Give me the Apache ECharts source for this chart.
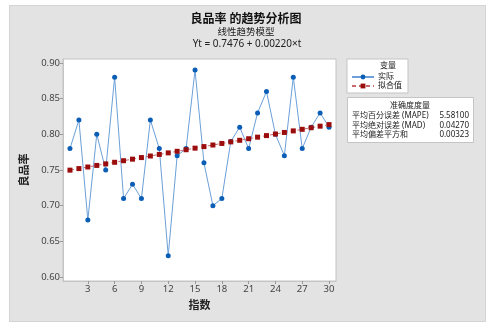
<!DOCTYPE html>
<html><head><meta charset="utf-8">
<script src="https://cdn.jsdelivr.net/npm/echarts@6/dist/echarts.min.js"></script>
<style>
html,body{margin:0;padding:0;background:#fff;}
#bg{position:absolute;left:9px;top:5px;width:475px;height:315px;background:#e3e3e3;border:1px solid #d4d4d4;}
#c{position:absolute;left:0;top:0;width:501px;height:331px;}
</style></head>
<body><div id="bg"></div><div id="c"></div>
<script>
const index = [1,2,3,4,5,6,7,8,9,10,11,12,13,14,15,16,17,18,19,20,21,22,23,24,25,26,27,28,29,30];
const actual = [0.78,0.82,0.68,0.80,0.75,0.88,0.71,0.73,0.71,0.82,0.78,0.63,0.77,0.78,0.89,0.76,0.70,0.71,0.79,0.81,0.78,0.83,0.86,0.80,0.77,0.88,0.78,0.81,0.83,0.81];
const fitted = [0.7498,0.7520,0.7542,0.7564,0.7586,0.7608,0.7630,0.7652,0.7674,0.7696,0.7718,0.7740,0.7762,0.7784,0.7806,0.7828,0.7850,0.7872,0.7894,0.7916,0.7938,0.7960,0.7982,0.8004,0.8026,0.8048,0.8070,0.8092,0.8114,0.8136];
const xTicks = [3,6,9,12,15,18,21,24,27,30];
const yTicks = [0.60,0.65,0.70,0.75,0.80,0.85,0.90];
const accuracyNames = ['平均百分误差 (MAPE)','平均绝对误差 (MAD)','平均偏差平方和'];
const accuracyValues = ['5.58100','0.04270','0.00323'];

const FONT = '"Noto Sans","Noto Sans CJK SC",sans-serif';
const chart = echarts.init(document.getElementById('c'));
const accTexts = [];
accuracyNames.forEach((n,i)=>{
  accTexts.push({type:'text',z:100,left:352,top:112+i*9.5,style:{text:n,font:'8px '+FONT,fill:'#222'}});
  accTexts.push({type:'text',z:100,right:32,top:112+i*9.5,style:{text:accuracyValues[i],font:'8px '+FONT,fill:'#222'}});
});
chart.setOption({
  backgroundColor:'transparent',
  animation:false,
  textStyle:{fontFamily:FONT},
  grid:{left:63,top:59,right:165,bottom:50,show:true,backgroundColor:'#fff',borderColor:'#c4c4c4',borderWidth:1},
  xAxis:{type:'value',min:0.22,max:30.78,
    name:'指数',nameLocation:'middle',nameGap:19,
    nameTextStyle:{fontWeight:'bold',fontSize:11,color:'#222',fontFamily:FONT},
    axisLine:{show:true,lineStyle:{color:'#c4c4c4'}},
    axisTick:{show:true,length:3,customValues:xTicks,lineStyle:{color:'#999'}},
    axisLabel:{customValues:xTicks,fontSize:9.5,color:'#444',margin:4,fontFamily:FONT},
    splitLine:{show:false}},
  yAxis:{type:'value',min:0.5945,max:0.9055,
    name:'良品率',nameLocation:'middle',nameGap:30,nameRotate:90,
    nameTextStyle:{fontWeight:'bold',fontSize:11,color:'#222',fontFamily:FONT},
    axisLine:{show:true,lineStyle:{color:'#c4c4c4'}},
    axisTick:{show:true,length:3,customValues:yTicks,lineStyle:{color:'#999'}},
    axisLabel:{customValues:yTicks,fontSize:9.5,color:'#444',margin:3,fontFamily:FONT,formatter:v=>v.toFixed(2)},
    splitLine:{show:false}},
  legend:{orient:'vertical',left:347,top:59,width:60,padding:[14,6,3,4],itemGap:1,itemWidth:22,itemHeight:6,
    borderColor:'#c4c4c4',borderWidth:1,backgroundColor:'#fff',z:2,
    textStyle:{fontSize:8,color:'#222',fontFamily:FONT,padding:[0,0,0,-1]},
    data:['实际','拟合值']},
  graphic:{z:50,elements:[
    {type:'text',z:100,x:246,y:14,style:{text:'良品率 的趋势分析图',font:'bold 12px '+FONT,fill:'#111',align:'center'}},
    {type:'text',z:100,x:246,y:28,style:{text:'线性趋势模型',font:'9.5px '+FONT,fill:'#222',align:'center'}},
    {type:'text',z:100,x:247,y:39,style:{text:'Yt = 0.7476 + 0.00220×t',font:'10px '+FONT,fill:'#222',align:'center'}},
    {type:'text',z:100,left:380,top:62,style:{text:'变量',font:'8px '+FONT,fill:'#222'}},
    {type:'rect',z:90,left:347,top:97,shape:{width:126,height:45},style:{fill:'#fff',stroke:'#c4c4c4',lineWidth:1}},
    {type:'text',z:100,left:390,top:102,style:{text:'准确度度量',font:'8px '+FONT,fill:'#222'}},
    ...accTexts
  ]},
  series:[
    {name:'实际',type:'line',data:index.map((t,i)=>[t,actual[i]]),
      symbol:'circle',symbolSize:5,
      lineStyle:{color:'#6ba0d8',width:1},itemStyle:{color:'#0b5eb5'}},
    {name:'拟合值',type:'line',data:index.map((t,i)=>[t,fitted[i]]),
      symbol:'rect',symbolSize:5,
      lineStyle:{color:'#c96a6a',width:1,type:[4,3]},itemStyle:{color:'#9b0d0d'}}
  ]
});
</script></body></html>
